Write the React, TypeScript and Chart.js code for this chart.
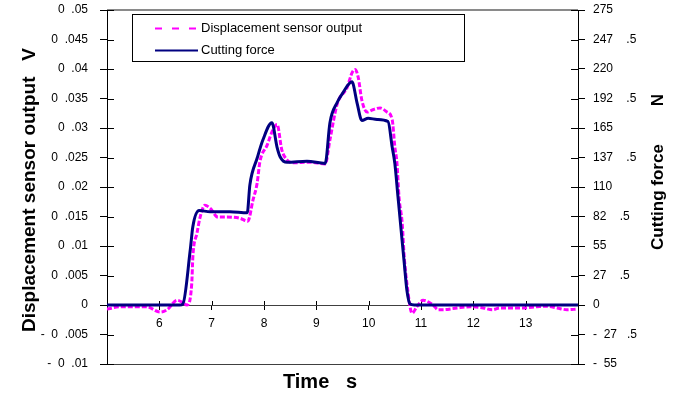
import React, { useEffect, useRef } from 'react';
import { Chart, registerables } from 'chart.js';

Chart.register(...registerables);

// Displacement sensor output (V) vs time (s)
const dispTime = [5.0, 5.25, 5.5, 5.76, 6.01, 6.15, 6.34, 6.43, 6.53, 6.62, 6.64, 6.72, 6.78, 6.87, 6.97, 7.12, 7.29, 7.54, 7.69, 7.79, 7.87, 7.92, 8.06, 8.17, 8.25, 8.34, 8.44, 8.55, 8.88, 9.17, 9.26, 9.4, 9.59, 9.68, 9.74, 9.8, 9.87, 9.97, 10.08, 10.22, 10.35, 10.45, 10.5, 10.54, 10.58, 10.64, 10.68, 10.73, 10.83, 10.92, 11.04, 11.23, 11.33, 11.42, 11.69, 11.94, 12.19, 12.36, 12.51, 12.7, 12.95, 13.22, 13.41, 13.6, 13.79, 13.98];
const dispVolts = [-0.0007, -0.0003, -0.0003, -0.0003, -0.0012, -0.0008, 0.0008, 0.0005, 0.0, 0.0037, 0.0081, 0.0122, 0.0149, 0.0169, 0.0164, 0.0149, 0.0149, 0.0147, 0.0142, 0.0178, 0.0207, 0.0242, 0.0271, 0.0297, 0.0306, 0.0263, 0.0246, 0.0241, 0.0242, 0.0239, 0.028, 0.0341, 0.0369, 0.0393, 0.0399, 0.0386, 0.0347, 0.0327, 0.0331, 0.0334, 0.0327, 0.0314, 0.0268, 0.0241, 0.0183, 0.0139, 0.0081, 0.0037, -0.0014, -0.0003, 0.0008, 0.0, -0.0008, -0.0008, -0.0005, -0.0003, -0.0005, -0.0008, -0.0005, -0.0005, -0.0005, -0.0003, -0.0002, -0.0005, -0.0008, -0.0007];

// Cutting force (N) vs time (s)
const forceTime = [5.0, 6.39, 6.45, 6.59, 6.64, 6.76, 6.97, 7.35, 7.68, 7.73, 7.87, 7.98, 8.15, 8.25, 8.31, 8.44, 8.82, 9.17, 9.26, 9.4, 9.51, 9.68, 9.78, 9.87, 9.99, 10.16, 10.37, 10.45, 10.5, 10.56, 10.62, 10.68, 10.73, 10.79, 10.87, 14.0];
const forceNewtons = [0, 0, 1, 51, 73, 88, 87, 87, 86, 112, 137, 154, 170, 147, 138, 133, 134, 132, 170, 189, 198, 208, 188, 172, 174, 173, 171, 147, 132, 101, 70, 39, 14, 1, 0, 0];

const dispTickLabels = ['-  0  .01', '-  0  .005', '0', '0  .005', '0  .01', '0  .015', '0  .02', '0  .025', '0  .03', '0  .035', '0  .04', '0  .045', '0  .05'];
const forceTickLabels = ['-  55', '-  27   .5', '0', '27    .5', '55', '82    .5', '110', '137    .5', '165', '192    .5', '220', '247    .5', '275'];
const timeTickLabels = ['6', '7', '8', '9', '10', '11', '12', '13'];

const seriesNames = ['Displacement sensor output', 'Cutting force'];

const FONT = '"Liberation Sans", Arial, sans-serif';

const overlayPlugin = {
  id: 'overlay',
  beforeDatasetsDraw(chart: any) {
    const { ctx, chartArea } = chart;
    const { left, right, top, bottom } = chartArea;
    const ys = chart.scales.y;
    const y1 = chart.scales.y1;
    const xs = chart.scales.x;
    ctx.save();
    // top border
    ctx.strokeStyle = '#8a8a8a';
    ctx.lineWidth = 2;
    ctx.beginPath();
    ctx.moveTo(left, top);
    ctx.lineTo(right, top);
    ctx.stroke();
    // bottom border
    ctx.strokeStyle = '#404040';
    ctx.lineWidth = 1;
    ctx.beginPath();
    ctx.moveTo(left, Math.round(bottom) + 0.5);
    ctx.lineTo(right, Math.round(bottom) + 0.5);
    ctx.stroke();
    // inner tick halves
    ctx.strokeStyle = '#000';
    ctx.lineWidth = 1;
    ys.ticks.forEach((t: any) => {
      const py = Math.round(ys.getPixelForValue(t.value)) + 0.5;
      ctx.beginPath();
      ctx.moveTo(left, py);
      ctx.lineTo(left + 7, py);
      ctx.stroke();
    });
    y1.ticks.forEach((t: any) => {
      const py = Math.round(y1.getPixelForValue(t.value)) + 0.5;
      ctx.beginPath();
      ctx.moveTo(right - 7, py);
      ctx.lineTo(right, py);
      ctx.stroke();
    });
    const zero = ys.getPixelForValue(0);
    xs.ticks.forEach((t: any) => {
      if (t.value <= 5 || t.value >= 14) return;
      const px = Math.round(xs.getPixelForValue(t.value)) + 0.5;
      ctx.beginPath();
      ctx.moveTo(px, zero - 4);
      ctx.lineTo(px, zero);
      ctx.stroke();
    });
    ctx.restore();
  },
  afterDraw(chart: any) {
    const { ctx } = chart;
    ctx.save();
    // legend box
    const bx = 132, by = 14, bw = 332, bh = 47;
    ctx.fillStyle = '#fff';
    ctx.fillRect(bx, by, bw, bh);
    ctx.strokeStyle = '#000';
    ctx.lineWidth = 1;
    ctx.strokeRect(bx + 0.5, by + 0.5, bw, bh);
    ctx.font = '13px ' + FONT;
    ctx.textBaseline = 'middle';
    ctx.textAlign = 'left';
    ctx.fillStyle = '#000';
    // entry 1
    ctx.save();
    ctx.strokeStyle = '#ff00ff';
    ctx.lineWidth = 2;
    ctx.setLineDash([7, 10]);
    ctx.beginPath();
    ctx.moveTo(155, 28.5);
    ctx.lineTo(198, 28.5);
    ctx.stroke();
    ctx.restore();
    ctx.fillText(seriesNames[0], 201, 28);
    // entry 2
    ctx.strokeStyle = '#000080';
    ctx.lineWidth = 2;
    ctx.beginPath();
    ctx.moveTo(155, 50.5);
    ctx.lineTo(198, 50.5);
    ctx.stroke();
    ctx.fillText(seriesNames[1], 201, 50);

    // axis titles
    ctx.fillStyle = '#000';
    ctx.font = 'bold 19px ' + FONT;
    ctx.textAlign = 'center';
    ctx.save();
    ctx.translate(30, 190);
    ctx.rotate(-Math.PI / 2);
    ctx.fillText('Displacement sensor output   V', 0, 0);
    ctx.restore();

    ctx.save();
    ctx.translate(658, 172);
    ctx.rotate(-Math.PI / 2);
    ctx.font = 'bold 17px ' + FONT;
    ctx.fillText('Cutting force        N', 0, 0);
    ctx.restore();

    ctx.font = 'bold 20px ' + FONT;
    ctx.fillText('Time   s', 320, 382);
    ctx.restore();
  },
};

const noPad = (w: number) => (s: any) => {
  s.width = w;
  s.paddingTop = 0;
  s.paddingBottom = 0;
};

export default function App() {
  const ref = useRef<HTMLCanvasElement>(null);
  useEffect(() => {
    if (!ref.current) return;
    const chart = new Chart(ref.current, {
      type: 'line',
      data: {
        datasets: [
          {
            label: seriesNames[0],
            data: dispTime.map((t, i) => ({ x: t, y: dispVolts[i] })),
            borderColor: '#ff00ff',
            borderWidth: 3,
            borderDash: [5, 2],
            pointRadius: 0,
            cubicInterpolationMode: 'monotone',
            yAxisID: 'y',
            order: 1,
          },
          {
            label: seriesNames[1],
            data: forceTime.map((t, i) => ({ x: t, y: forceNewtons[i] })),
            borderColor: '#000080',
            borderWidth: 3,
            pointRadius: 0,
            cubicInterpolationMode: 'monotone',
            yAxisID: 'y1',
            order: 0,
          },
        ],
      },
      options: {
        animation: false,
        responsive: true,
        maintainAspectRatio: false,
        layout: { padding: { top: 10, bottom: 35, left: 0, right: 0 } },
        plugins: { legend: { display: false }, tooltip: { enabled: false } },
        scales: {
          x: {
            type: 'linear',
            min: 5,
            max: 14,
            position: { y: 0 } as any,
            ticks: {
              stepSize: 1,
              autoSkip: false,
              maxRotation: 0,
              padding: 7,
              color: '#000',
              font: { size: 12, family: FONT },
              callback: (v: any) => {
                const i = timeTickLabels.indexOf(String(v));
                return i >= 0 ? timeTickLabels[i] : '';
              },
            },
            grid: { drawOnChartArea: false, tickLength: 4, color: '#000' },
            border: { color: '#404040', width: 1 },
          },
          y: {
            type: 'linear',
            position: 'left',
            min: -0.01,
            max: 0.05,
            afterFit: noPad(107),
            ticks: {
              stepSize: 0.005,
              padding: 12,
              color: '#000',
              font: { size: 12, family: FONT },
              callback: (v: any) => dispTickLabels[Math.round((Number(v) + 0.01) / 0.005)] ?? '',
            },
            grid: { drawOnChartArea: false, tickLength: 7, color: '#000' },
            border: { color: '#000', width: 1 },
          },
          y1: {
            type: 'linear',
            position: 'right',
            min: -55,
            max: 275,
            afterFit: noPad(110),
            ticks: {
              stepSize: 27.5,
              padding: 8,
              color: '#000',
              font: { size: 12, family: FONT },
              callback: (v: any) => forceTickLabels[Math.round((Number(v) + 55) / 27.5)] ?? '',
            },
            grid: { drawOnChartArea: false, tickLength: 7, color: '#000' },
            border: { color: '#000', width: 1 },
          },
        },
      },
      plugins: [overlayPlugin],
    });
    return () => chart.destroy();
  }, []);
  return (
    <div style={{ position: 'fixed', left: 0, top: 0, width: 688, height: 399, background: '#fff' }}>
      <canvas ref={ref} />
    </div>
  );
}
